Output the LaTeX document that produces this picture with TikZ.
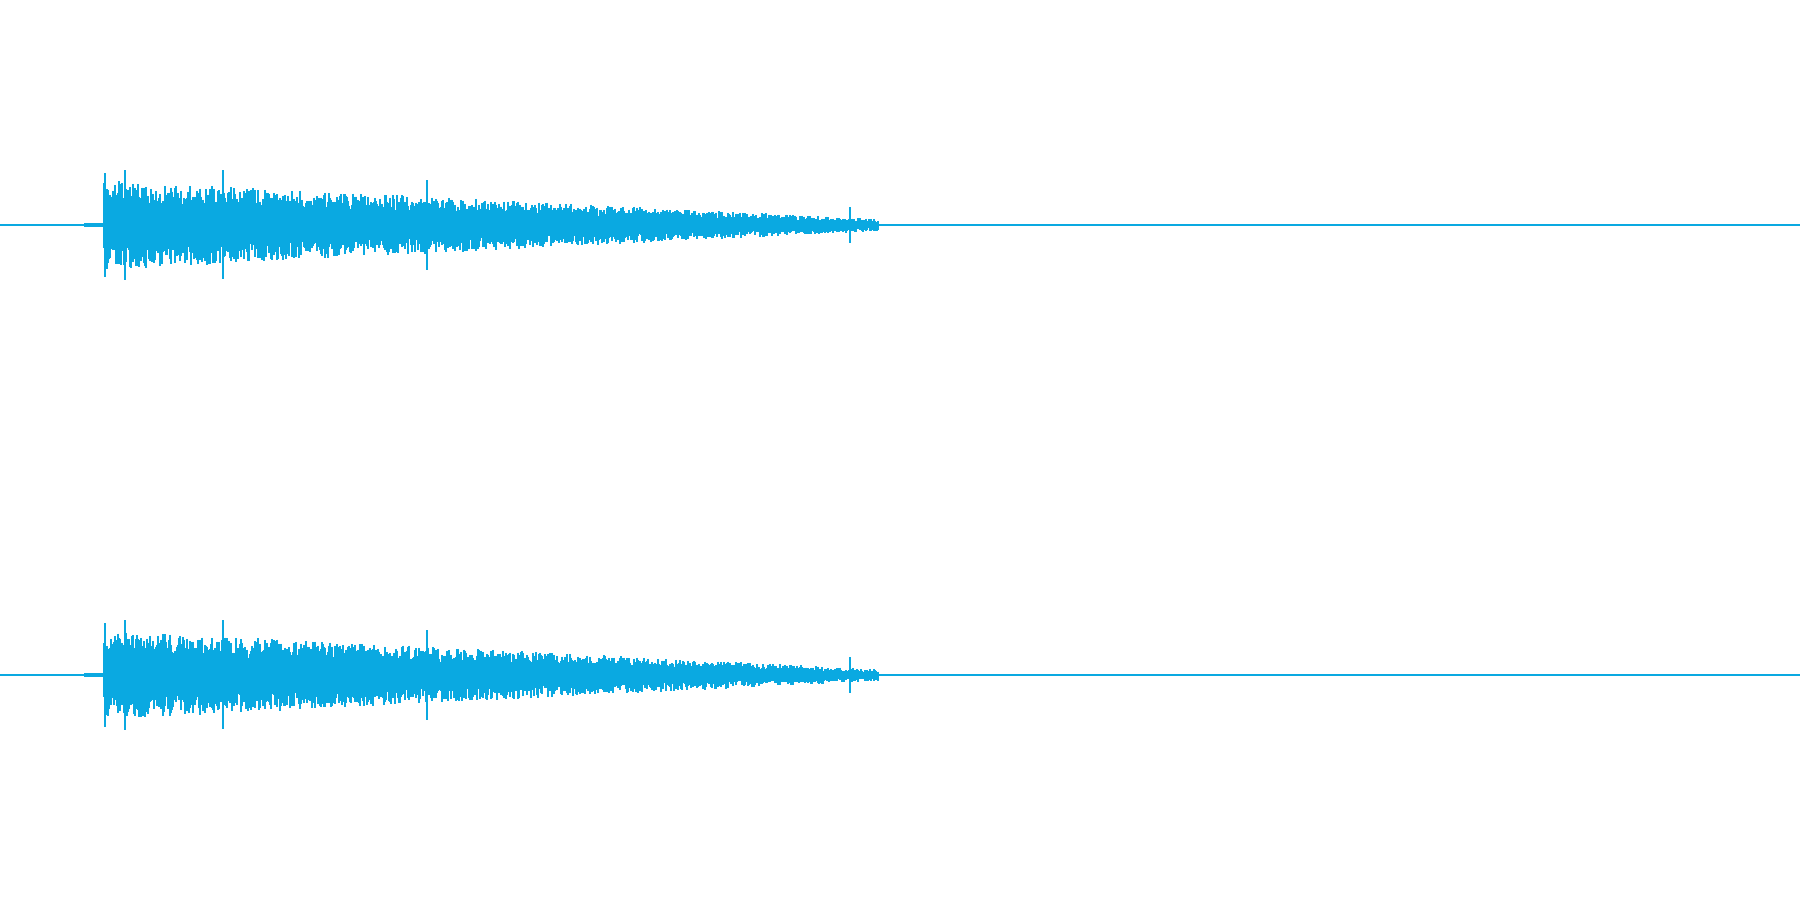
\documentclass[tikz,border=0pt]{standalone}
\begin{document}
\begin{tikzpicture}[x=0.01cm,y=-0.01cm]
\definecolor{wave}{HTML}{0AA9E1}
\tikzset{wl/.style={wave,line width=0.5pt}}
\useasboundingbox (0,0) rectangle (1800,900);
\pgfmathsetseed{7}
\foreach \c in {225,675}{
  \draw[wave,line width=0.5pt] (0,\c) -- (1800,\c);
  \draw[wave,line width=1pt] (84,\c) -- (104,\c);
  \foreach \x in {104,105,...,878}{
    \pgfmathsetmacro{\a}{6+0.05*(878-\x)}
    \pgfmathsetmacro{\t}{\a*(0.45+0.55*rnd)}
    \pgfmathsetmacro{\b}{\a*(0.45+0.55*rnd)}
    \draw[wl] (\x,\c-\t) -- (\x,\c+\b);
  }
  \draw[wl] (105,\c-52) -- (105,\c+52);
  \draw[wl] (125,\c-55) -- (125,\c+55);
  \draw[wl] (223,\c-55) -- (223,\c+54);
  \draw[wl] (427,\c-45) -- (427,\c+45);
  \draw[wl] (850,\c-18) -- (850,\c+18);
}
\end{tikzpicture}
\end{document}
